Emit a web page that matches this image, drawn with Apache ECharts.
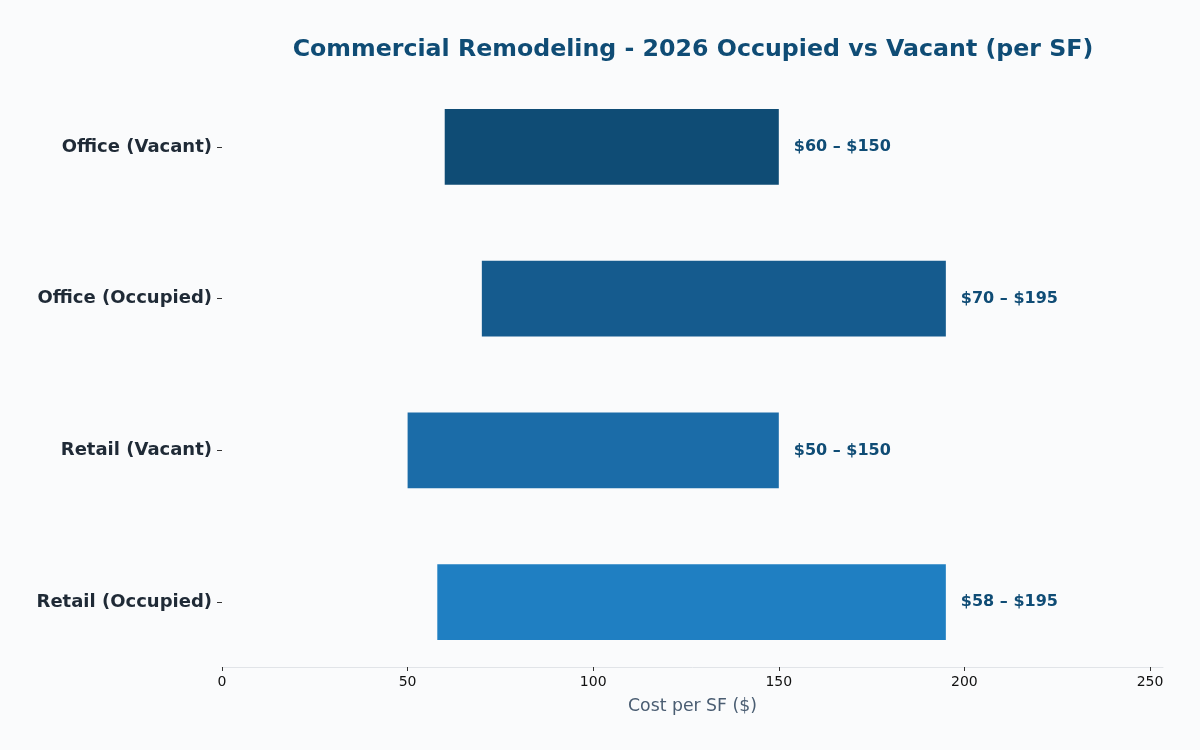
<!DOCTYPE html>
<html>
<head>
<meta charset="utf-8">
<script src="https://cdn.jsdelivr.net/npm/echarts@6/dist/echarts.min.js"></script>
<style>
html,body{margin:0;padding:0;background:#fafbfc;}
#chart{width:1200px;height:750px;}
</style>
</head>
<body>
<div id="chart"></div>
<script>
const categories = ['Office (Vacant)', 'Office (Occupied)', 'Retail (Vacant)', 'Retail (Occupied)'];
const lowValues = [60, 70, 50, 58];
const highValues = [150, 195, 150, 195];
const barColors = ['#0f4c75', '#155b8e', '#1b6ca8', '#1f7fc2'];
const xTicks = [0, 50, 100, 150, 200, 250];

const chart = echarts.init(document.getElementById('chart'));
chart.setOption({
  backgroundColor: '#fafbfc',
  animation: false,
  title: {
    text: 'Commercial Remodeling - 2026 Occupied vs Vacant (per SF)',
    left: 688, textAlign: 'center', top: 33,
    textStyle: { fontFamily: 'DejaVu Sans', fontWeight: 'bold', fontSize: 23.7, color: '#0f4c75' }
  },
  grid: { left: 222, right: 37, top: 71, bottom: 72 },
  xAxis: {
    type: 'value', min: 0, max: 253.5, interval: 50, offset: -11,
    name: 'Cost per SF ($)', nameLocation: 'middle', nameGap: 31,
    nameTextStyle: { fontFamily: 'DejaVu Sans', fontSize: 17.3, color: '#4a5d72' },
    axisLine: { show: true, lineStyle: { color: '#e1e4e8', width: 1 } },
    axisTick: { show: true, length: 4, customValues: xTicks, lineStyle: { color: '#333' } },
    axisLabel: { fontFamily: 'DejaVu Sans', fontSize: 14, color: '#111', margin: 8, customValues: xTicks },
    splitLine: { show: false }
  },
  yAxis: {
    type: 'category', data: categories, inverse: true,
    axisLine: { show: false },
    axisTick: { show: true, alignWithLabel: true, length: 5, lineStyle: { color: '#333' } },
    axisLabel: { fontFamily: 'DejaVu Sans', fontWeight: 'bold', fontSize: 18, color: '#1f2a36', margin: 10, padding: [3, 0, 0, 0] }
  },
  series: [
    {
      type: 'bar', stack: 'r', barWidth: '50%', silent: true,
      itemStyle: { color: 'transparent' },
      data: lowValues
    },
    {
      type: 'bar', stack: 'r', barWidth: '50%',
      data: highValues.map((h, i) => ({ value: h - lowValues[i], itemStyle: { color: barColors[i] } })),
      label: {
        show: true, position: 'right', distance: 15,
        fontFamily: 'DejaVu Sans', fontWeight: 'bold', fontSize: 16, color: '#0f4c75',
        formatter: p => '$' + lowValues[p.dataIndex] + ' \u2013 $' + highValues[p.dataIndex]
      }
    }
  ]
});
</script>
</body>
</html>
